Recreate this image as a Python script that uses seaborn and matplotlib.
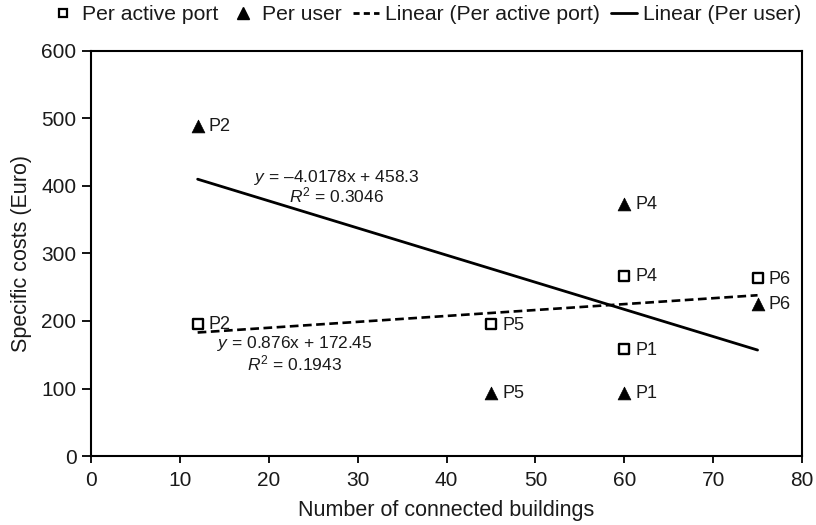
import matplotlib
matplotlib.use("Agg")
import matplotlib.pyplot as plt
import seaborn as sns
import pandas as pd
from matplotlib.lines import Line2D

# ---- data ----
point_labels = ["P1", "P2", "P4", "P5", "P6"]
buildings = [60, 12, 60, 45, 75]
per_active_port = [158, 196, 267, 195, 263]
per_user = [93, 489, 373, 93, 225]

# linear trend lines (as printed on the chart)
port_slope, port_intercept, port_r2 = 0.876, 172.45, 0.1943
user_slope, user_intercept, user_r2 = -4.0178, 458.3, 0.3046

x_ticks = [0, 10, 20, 30, 40, 50, 60, 70, 80]
y_ticks = [0, 100, 200, 300, 400, 500, 600]

sns.set_theme(style="white")
plt.rcParams["font.family"] = ["Liberation Sans", "DejaVu Sans"]
plt.rcParams["mathtext.fontset"] = "custom"
plt.rcParams["mathtext.rm"] = "Liberation Sans"
plt.rcParams["mathtext.it"] = "Liberation Sans:italic"

TXT = "#1a1a1a"

df = pd.DataFrame({"label": point_labels, "x": buildings,
                   "port": per_active_port, "user": per_user})

fig = plt.figure(figsize=(8.16, 5.25), dpi=100)
ax = fig.add_axes([91 / 816, 1 - 456 / 525, (802 - 91) / 816, (456 - 51) / 525])

# trend lines over the data range
xmin, xmax = min(buildings), max(buildings)
trend = pd.DataFrame({"x": [xmin, xmax]})
trend["port"] = port_intercept + port_slope * trend["x"]
trend["user"] = user_intercept + user_slope * trend["x"]
sns.lineplot(data=trend, x="x", y="user", ax=ax, color="black", lw=2.0)
sns.lineplot(data=trend, x="x", y="port", ax=ax, color="black", lw=1.9,
             linestyle=(0, (3.3, 1.7)))

sns.scatterplot(data=df, x="x", y="port", ax=ax, marker="s", s=48,
                facecolor="white", edgecolor="black", linewidth=1.7, zorder=3)
sns.scatterplot(data=df, x="x", y="user", ax=ax, marker="^", s=85,
                color="black", edgecolor="black", linewidth=0.5, zorder=3)

for _, r in df.iterrows():
    ax.annotate(r["label"], (r["x"], r["port"]), xytext=(8, -0.5),
                textcoords="offset points", ha="left", va="center",
                fontsize=13, color=TXT)
    ax.annotate(r["label"], (r["x"], r["user"]), xytext=(8, -0.5),
                textcoords="offset points", ha="left", va="center",
                fontsize=13, color=TXT)

# equations
ax.text(27.6, 412, r"$\it{y}$ = –%.4fx + %.1f" % (abs(user_slope), user_intercept),
        ha="center", va="center", fontsize=12.5, color=TXT)
ax.text(27.6, 386, r"$\it{R}^2$ = %.4f" % user_r2, ha="center", va="center",
        fontsize=12.5, color=TXT)
ax.text(22.9, 167, r"$\it{y}$ = %.3fx + %.2f" % (port_slope, port_intercept),
        ha="center", va="center", fontsize=12.5, color=TXT)
ax.text(22.9, 137, r"$\it{R}^2$ = %.4f" % port_r2, ha="center", va="center",
        fontsize=12.5, color=TXT)

ax.set_xlim(0, 80)
ax.set_ylim(0, 600)
ax.set_xticks(x_ticks)
ax.set_yticks(y_ticks)
ax.tick_params(axis="x", direction="out", length=5, width=1.3, color="black",
               labelsize=15, labelcolor=TXT, pad=6, bottom=True)
ax.tick_params(axis="y", direction="out", length=6.5, width=1.3, color="black",
               labelsize=15, labelcolor=TXT, pad=4, left=True)
for sp in ax.spines.values():
    sp.set_color("black")
    sp.set_linewidth(1.5)
ax.set_xlabel("Number of connected buildings", fontsize=15.5, color=TXT, labelpad=7)
ax.set_ylabel("Specific costs (Euro)", fontsize=15.5, color=TXT, labelpad=7)

handles = [
    Line2D([], [], marker="s", ls="none", markerfacecolor="white",
           markeredgecolor="black", markeredgewidth=1.6, markersize=6),
    Line2D([], [], marker="^", ls="none", color="black", markersize=9),
    Line2D([], [], color="black", lw=2.0, linestyle=(0, (2.2, 1.5))),
    Line2D([], [], color="black", lw=2.0),
]
labels = ["Per active port", "Per user", "Linear (Per active port)", "Linear (Per user)"]
fig.legend(handles, labels, loc="center", bbox_to_anchor=(0.522, 0.972), ncol=4,
           frameon=False, fontsize=15.2, handlelength=1.2, handletextpad=0.3,
           columnspacing=0.55, borderaxespad=0, borderpad=0, labelcolor=TXT)

fig.savefig("out.png", dpi=100)
